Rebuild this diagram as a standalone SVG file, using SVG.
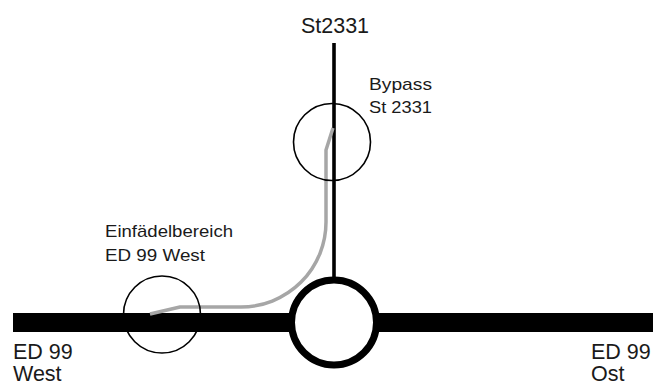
<svg xmlns="http://www.w3.org/2000/svg" width="653" height="385" viewBox="0 0 653 385">
  <style>
    text { font-family: "Liberation Sans", Arial, sans-serif; fill: #1a1a1a; }
    .big { font-size: 21.5px; }
    .small { font-size: 17px; }
    .road { stroke: #000; fill: none; }
    .zone { stroke: #000; stroke-width: 1.6; fill: none; }
    .bypass { stroke: #a6a6a6; stroke-width: 3.5; fill: none; stroke-linejoin: round; }
  </style>
  <rect width="653" height="385" fill="#fff"/>

  <g id="connectors">
    <!-- ED 99 main road -->
    <line class="road" x1="13" y1="322.5" x2="653" y2="322.5" stroke-width="19"/>
    <!-- St2331 -->
    <line class="road" x1="334" y1="43" x2="334" y2="280" stroke-width="3.6"/>
    <!-- bypass lane -->
    <path class="bypass" d="M333,128 L326,150 L326,222 A85,85 0 0 1 241,307 L180,307 L150,314"/>
  </g>

  <g id="roundabout">
    <circle cx="334" cy="322.5" r="42.5" fill="#fff" stroke="#000" stroke-width="7"/>
  </g>

  <g id="zone-bypass">
    <circle class="zone" cx="332" cy="142" r="38.5"/>
    <text class="small" x="369" y="90" textLength="63" lengthAdjust="spacingAndGlyphs">Bypass</text>
    <text class="small" x="369" y="113" textLength="63" lengthAdjust="spacingAndGlyphs">St 2331</text>
  </g>

  <g id="zone-merge">
    <circle class="zone" cx="162" cy="314.5" r="38.5"/>
    <text class="small" x="105" y="237" textLength="128" lengthAdjust="spacingAndGlyphs">Einfädelbereich</text>
    <text class="small" x="105" y="261" textLength="100" lengthAdjust="spacingAndGlyphs">ED 99 West</text>
  </g>

  <g id="label-north">
    <text class="big" x="335" y="32.5" text-anchor="middle">St2331</text>
  </g>

  <g id="label-west">
    <text class="big" x="13" y="358.5">ED 99</text>
    <text class="big" x="13" y="380.5">West</text>
  </g>

  <g id="label-east">
    <text class="big" x="591" y="358.5">ED 99</text>
    <text class="big" x="591" y="380.5">Ost</text>
  </g>
</svg>
